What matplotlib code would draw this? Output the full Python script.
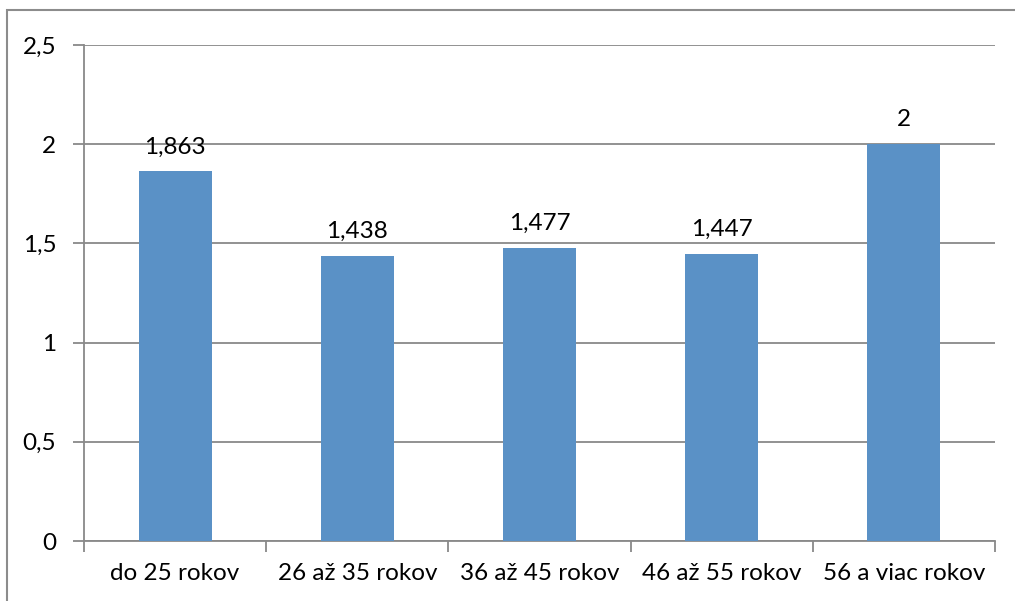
import matplotlib.pyplot as plt
from matplotlib.patches import Rectangle

# average score per age group
categories = ['do 25 rokov', '26 až 35 rokov', '36 až 45 rokov', '46 až 55 rokov', '56 a viac rokov']
values = [1.863, 1.438, 1.477, 1.447, 2.0]
value_labels = ['1,863', '1,438', '1,477', '1,447', '2']
yticks = [0, 0.5, 1, 1.5, 2, 2.5]
ytick_labels = ['0', '0,5', '1', '1,5', '2', '2,5']

plt.rcParams['font.family'] = ['Lato', 'DejaVu Sans']
grid_col = '#898989'
fs = 17.5

fig = plt.figure(figsize=(10.15, 6.01), dpi=100)
ax = fig.add_axes([84 / 1015, 60 / 601, 911 / 1015, 496 / 601])

x = range(len(categories))
ax.bar(x, values, width=0.4, color='#5A91C6', zorder=3)
for i, v in enumerate(values):
    ax.annotate(value_labels[i], (i, v), xytext=(0, 10), textcoords='offset points',
                ha='center', va='bottom', fontsize=fs, color='black')

ax.set_xlim(-0.5, len(categories) - 0.5)
ax.set_ylim(0, 2.5)
ax.set_yticks(yticks)
ax.set_yticklabels(ytick_labels, fontsize=fs)
ax.set_xticks(list(x))
ax.set_xticklabels(categories, fontsize=fs)
ax.tick_params(axis='x', length=0, pad=16)
ax.tick_params(axis='y', length=8, width=1.3, color=grid_col, pad=12)
# minor ticks on the category boundaries
ax.set_xticks([i - 0.5 for i in range(len(categories) + 1)], minor=True)
ax.tick_params(axis='x', which='minor', length=8, width=1.3, color=grid_col)

ax.grid(axis='y', color=grid_col, linewidth=1.3, zorder=0)
for side in ['top', 'right']:
    ax.spines[side].set_visible(False)
for side in ['left', 'bottom']:
    ax.spines[side].set_color(grid_col)
    ax.spines[side].set_linewidth(1.3)

# outer chart frame
fig.patches.append(Rectangle((7 / 1015, -0.1), 1.2, 1 - 10 / 601 + 0.1, transform=fig.transFigure,
                             fill=False, edgecolor='#8c8c8c', linewidth=1.5))

fig.savefig('out.png', dpi=100)
